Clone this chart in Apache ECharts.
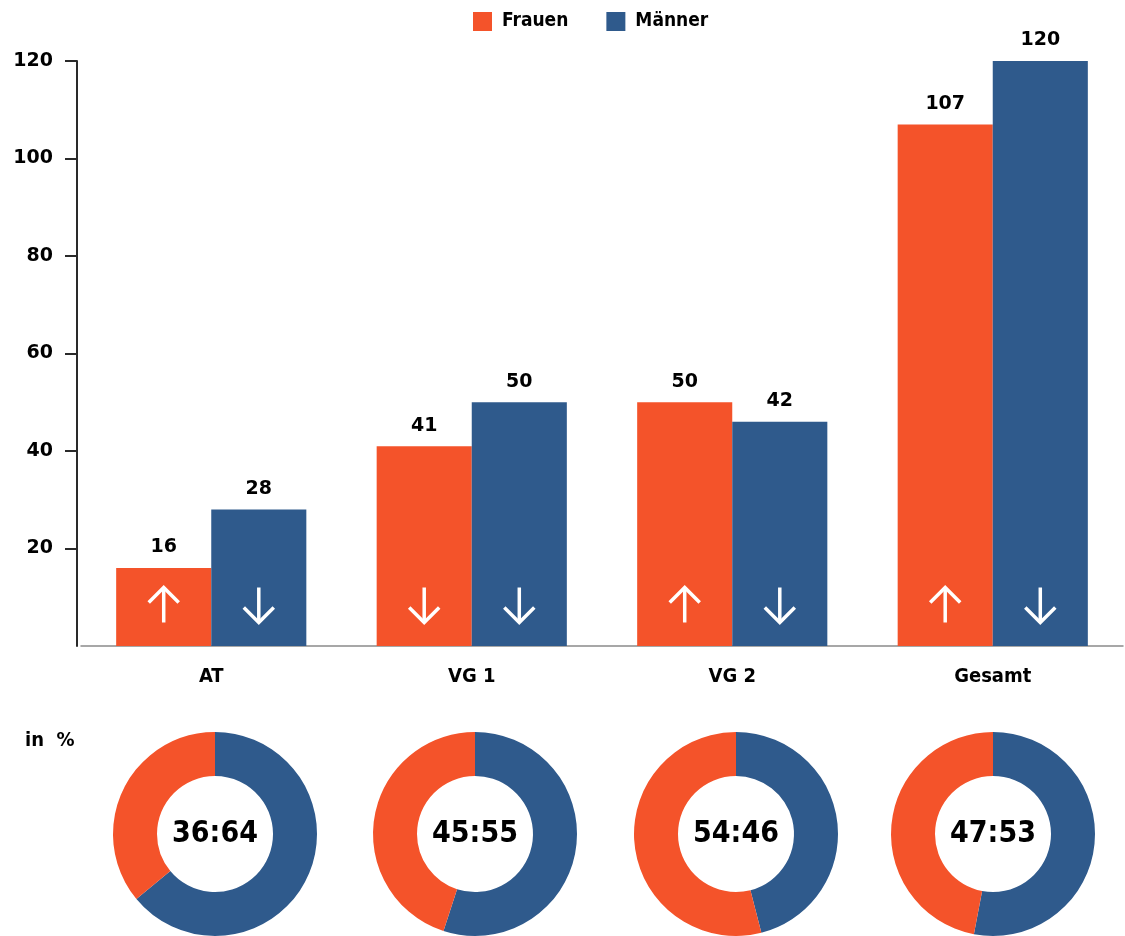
<!DOCTYPE html>
<html><head><meta charset="utf-8">
<script src="https://cdn.jsdelivr.net/npm/echarts@6/dist/echarts.min.js"></script>
<style>html,body{margin:0;padding:0;background:#fff}#c{width:1125px;height:936px}</style>
</head><body><div id="c"></div>
<script>
const categories = ['AT', 'VG 1', 'VG 2', 'Gesamt'];
const frauen = [16, 41, 50, 107];
const maenner = [28, 50, 46, 120];
const frauenLabels = ['16', '41', '50', '107'];
const maennerLabels = ['28', '50', '42', '120'];
const frauenArrows = ['up', 'down', 'up', 'up'];
const maennerArrows = ['down', 'down', 'down', 'down'];
const yTicks = [20, 40, 60, 80, 100, 120];
const pieFrauen = [36, 45, 54, 47];
const pieMaenner = [64, 55, 46, 53];
const pieLabels = ['36:64', '45:55', '54:46', '47:53'];

const ORANGE = '#F4532A', BLUE = '#2F5A8C';
const NUM = 'DejaVu Sans';
const COND = '"DejaVu Sans Condensed", "Liberation Sans Narrow", "DejaVu Sans"';
const chart = echarts.init(document.getElementById('c'));
const CAT_GAP = 0.27;

function arrowSeries(arrows, side) {
  return {
    type: 'custom', silent: true, z: 5,
    data: arrows.map((d, i) => [i, 0, d === 'up' ? 1 : -1]),
    encode: { x: 0, y: 1 },
    renderItem: function (params, api) {
      const base = api.coord([api.value(0), 0]);
      const band = api.size([1, 0])[0];
      const barW = band * (1 - CAT_GAP) / 2;
      const x = base[0] + side * barW / 2;
      const y0 = base[1];
      const bot = y0 - 23.5, top = y0 - 58.5;
      const dir = api.value(2);
      const tip = dir > 0 ? top : bot;
      const tail = dir > 0 ? bot : top;
      const headY = dir > 0 ? tip + 15 : tip - 15;
      const st = { stroke: '#fff', lineWidth: 3.5, fill: null, lineCap: 'butt', lineJoin: 'miter' };
      return { type: 'group', children: [
        { type: 'line', shape: { x1: x, y1: tail, x2: x, y2: tip }, style: st },
        { type: 'polyline', shape: { points: [[x - 15, headY], [x, tip], [x + 15, headY]] }, style: st }
      ]};
    }
  };
}

const pieCenters = [215, 475, 736, 993];
const pies = pieLabels.map((lab, i) => ({
  type: 'pie', radius: [58, 102], center: [pieCenters[i], 834],
  startAngle: 90, clockwise: true, silent: true,
  label: { show: false }, labelLine: { show: false },
  data: [
    { name: 'Männer', value: pieMaenner[i], itemStyle: { color: BLUE },
      label: { show: true, position: 'center', formatter: lab, color: '#000',
               fontFamily: COND, fontWeight: 'bold', fontSize: 30 } },
    { name: 'Frauen', value: pieFrauen[i], itemStyle: { color: ORANGE } }
  ]
}));

chart.setOption({
  animation: false,
  legend: {
    left: 468, top: 7, itemWidth: 19, itemHeight: 19, itemGap: 38, icon: 'rect',
    textStyle: { fontFamily: COND, fontWeight: 'bold', fontSize: 19, color: '#000', padding: [0, 0, 0, 5] },
    data: ['Frauen', 'Männer']
  },
  grid: { left: 81, right: 2, top: 61, bottom: 290, containLabel: false },
  xAxis: {
    type: 'category', data: categories,
    axisLine: { lineStyle: { color: '#8a8a8a', width: 1.5 } },
    axisTick: { show: false },
    axisLabel: { margin: 21, fontFamily: COND, fontWeight: 'bold', fontSize: 20, color: '#000' }
  },
  yAxis: {
    type: 'value', min: 0, max: 120, interval: 20, offset: 4,
    axisLine: { show: true, lineStyle: { color: '#2a2a2a', width: 2 } },
    axisTick: { show: true, length: 12, inside: false, customValues: yTicks, lineStyle: { color: '#2a2a2a', width: 2 } },
    axisLabel: { margin: 24, customValues: yTicks, fontFamily: NUM, fontWeight: 'bold', fontSize: 19, color: '#000' },
    splitLine: { show: false }
  },
  graphic: [{ type: 'text', left: 25, top: 731,
    style: { text: 'in  %', fontFamily: COND, fontWeight: 'bold', fontSize: 20, fill: '#000' } }],
  series: [
    { name: 'Frauen', type: 'bar', data: frauen, barGap: '0%', barCategoryGap: (CAT_GAP * 100) + '%',
      itemStyle: { color: ORANGE },
      label: { show: true, position: 'top', distance: 11, formatter: p => frauenLabels[p.dataIndex],
               fontFamily: NUM, fontWeight: 'bold', fontSize: 19, color: '#000' } },
    { name: 'Männer', type: 'bar', data: maenner, barGap: '0%', barCategoryGap: (CAT_GAP * 100) + '%',
      itemStyle: { color: BLUE },
      label: { show: true, position: 'top', distance: 11, formatter: p => maennerLabels[p.dataIndex],
               fontFamily: NUM, fontWeight: 'bold', fontSize: 19, color: '#000' } },
    arrowSeries(frauenArrows, -1),
    arrowSeries(maennerArrows, 1)
  ].concat(pies)
});
</script></body></html>
